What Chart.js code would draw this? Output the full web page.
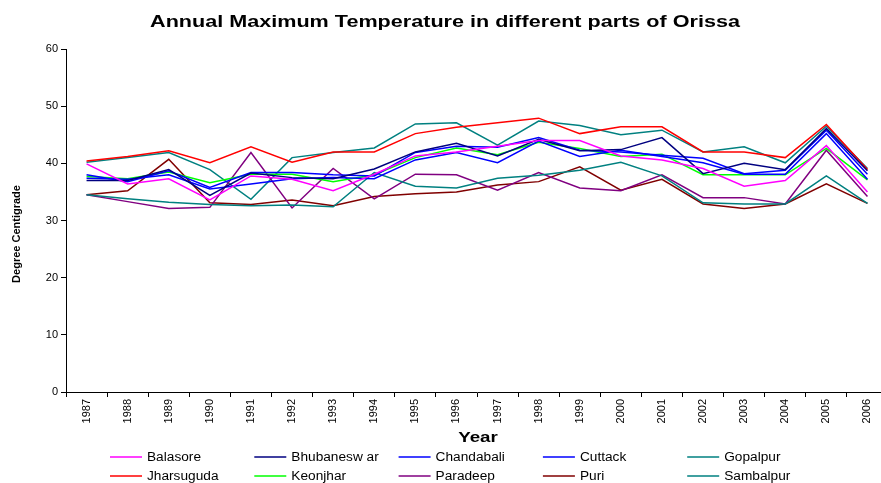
<!DOCTYPE html>
<html>
<head>
<meta charset="utf-8">
<script src="https://cdn.jsdelivr.net/npm/chart.js@4.4.1/dist/chart.umd.min.js"></script>
<style>
html, body { margin: 0; padding: 0; overflow: hidden; background: #fff; width: 881px; height: 483px; }
#wrap { position: absolute; left: 0; top: 0; width: 892px; height: 483px; }
</style>
</head>
<body>
<div id="wrap"><canvas id="c" width="892" height="483"></canvas></div>
<script>
const years = ['1987','1988','1989','1990','1991','1992','1993','1994','1995','1996','1997','1998','1999','2000','2001','2002','2003','2004','2005','2006'];
const balasore    = [39.9, 36.4, 37.3, 33.6, 37.8, 37.2, 35.2, 38.1, 41.3, 42.0, 43.0, 44.0, 44.0, 41.3, 40.6, 39.1, 36.0, 37.0, 43.1, 35.0];
const bhubaneswar = [37.0, 37.0, 38.9, 34.4, 38.3, 37.5, 37.3, 39.0, 42.0, 43.5, 41.3, 44.2, 42.2, 42.4, 44.5, 38.2, 40.0, 38.9, 46.1, 38.7];
const chandabali  = [37.4, 37.2, 38.0, 35.5, 36.4, 37.3, 37.5, 37.3, 40.6, 41.9, 40.1, 43.9, 41.2, 42.3, 41.2, 40.1, 38.1, 38.1, 45.2, 37.2];
const cuttack     = [38.0, 36.8, 38.7, 35.8, 38.4, 38.4, 38.0, 37.8, 41.9, 43.0, 42.8, 44.5, 42.3, 42.0, 41.4, 40.9, 38.2, 38.8, 45.8, 38.1];
const gopalpur    = [34.5, 33.8, 33.2, 32.8, 32.6, 32.7, 32.4, 38.4, 36.0, 35.7, 37.4, 37.9, 38.8, 40.2, 37.8, 33.1, 32.9, 32.9, 37.8, 33.0];
const jharsuguda  = [40.4, 41.2, 42.2, 40.1, 42.9, 40.2, 42.0, 42.0, 45.2, 46.3, 47.1, 47.9, 45.2, 46.4, 46.4, 42.0, 42.0, 41.0, 46.8, 38.9];
const keonjhar    = [37.7, 37.3, 38.5, 36.6, 38.1, 38.1, 36.8, 38.0, 41.0, 42.7, 41.5, 43.7, 42.6, 41.2, 41.6, 38.0, 38.0, 38.0, 42.6, 37.1];
const paradeep    = [34.5, 33.3, 32.1, 32.3, 41.9, 32.2, 39.1, 33.8, 38.1, 38.0, 35.3, 38.4, 35.7, 35.2, 38.0, 34.0, 34.0, 32.9, 42.3, 34.2];
const puri        = [34.5, 35.2, 40.7, 33.1, 32.8, 33.6, 32.6, 34.2, 34.7, 35.0, 36.2, 36.8, 39.4, 35.3, 37.2, 32.9, 32.1, 32.9, 36.4, 33.0];
const sambalpur   = [40.2, 41.0, 41.9, 38.9, 33.7, 41.0, 41.9, 42.7, 46.9, 47.1, 43.2, 47.4, 46.6, 45.0, 45.8, 42.0, 42.9, 40.1, 46.5, 39.1];

const seriesNames = ['Balasore','Bhubanesw ar','Chandabali','Cuttack','Gopalpur','Jharsuguda','Keonjhar','Paradeep','Puri','Sambalpur'];
const seriesData = [balasore, bhubaneswar, chandabali, cuttack, gopalpur, jharsuguda, keonjhar, paradeep, puri, sambalpur];
const seriesColors = ['#FF00FF','#000080','#0000FF','#0000FF','#008080','#FF0000','#00FF00','#800080','#800000','#008080'];

const titleText = 'Annual Maximum Temperature in different parts of Orissa';
const yTitleText = 'Degree Centigrade';
const xTitleText = 'Year';

const FONT = "'Liberation Sans', Arial, sans-serif";

function stretchedText(ctx, text, x, y, sx) {
  ctx.save();
  ctx.translate(x, y);
  ctx.scale(sx, 1);
  ctx.fillText(text, 0, 0);
  ctx.restore();
}

const textPlugin = {
  id: 'texts',
  afterDraw(chart) {
    const ctx = chart.ctx;
    ctx.save();
    ctx.fillStyle = '#000';
    ctx.textAlign = 'center';
    ctx.textBaseline = 'middle';
    ctx.font = 'bold 17px ' + FONT;
    stretchedText(ctx, titleText, 445, 22, 1.27);
    ctx.font = 'bold 15px ' + FONT;
    stretchedText(ctx, xTitleText, 478, 438, 1.25);
    ctx.save();
    ctx.translate(17, 234);
    ctx.rotate(-Math.PI / 2);
    ctx.font = 'bold 11px ' + FONT;
    ctx.fillText(yTitleText, 0, 0);
    ctx.restore();
    ctx.font = '12px ' + FONT;
    ctx.textAlign = 'left';
    seriesNames.forEach((name, i) => {
      const col = i % 5, row = Math.floor(i / 5);
      const x0 = 110 + col * 144.3;
      const y = 457 + row * 19;
      ctx.strokeStyle = seriesColors[i];
      ctx.lineWidth = 1.5;
      ctx.beginPath();
      ctx.moveTo(x0, y);
      ctx.lineTo(x0 + 32, y);
      ctx.stroke();
      stretchedText(ctx, name, x0 + 37, y + 1, 1.14);
    });
    ctx.restore();
  }
};

new Chart(document.getElementById('c'), {
  type: 'line',
  data: {
    labels: years,
    datasets: seriesNames.map((n, i) => ({
      label: n,
      data: seriesData[i],
      borderColor: seriesColors[i],
      backgroundColor: seriesColors[i],
      borderWidth: 1.5,
      pointRadius: 0,
      tension: 0,
      fill: false
    }))
  },
  options: {
    responsive: false,
    animation: false,
    layout: { padding: { left: 0, top: 49, right: 4, bottom: 36 } },
    plugins: { legend: { display: false }, title: { display: false }, tooltip: { enabled: false } },
    scales: {
      x: {
        type: 'category',
        offset: true,
        grid: { display: true, drawOnChartArea: false, offset: true, tickLength: 5, color: '#000' },
        border: { display: true, color: '#000', width: 1 },
        ticks: { minRotation: 90, maxRotation: 90, autoSkip: false, color: '#000', padding: 2, font: { family: FONT, size: 11 } },
        title: { display: false },
        afterFit(scale) { scale.height = 55; }
      },
      y: {
        min: 0, max: 60,
        ticks: { stepSize: 10, color: '#000', padding: 3, font: { family: FONT, size: 11 } },
        grid: { display: true, drawOnChartArea: false, tickLength: 5, color: '#000' },
        border: { display: true, color: '#000', width: 1 },
        afterFit(scale) { scale.width = 66; }
      }
    }
  },
  plugins: [textPlugin]
});
</script>
</body>
</html>
